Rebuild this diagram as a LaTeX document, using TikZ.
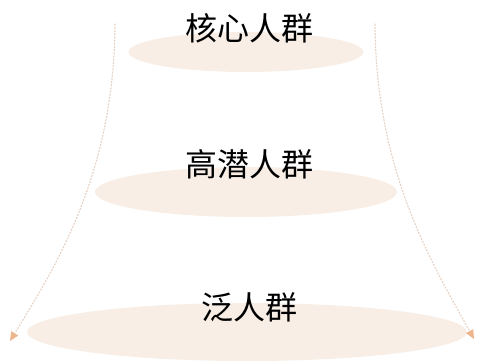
\documentclass[tikz,border=0pt]{standalone}
\usepackage{fontspec}
\newfontfamily\cjk{Noto Sans CJK SC}
\usetikzlibrary{shapes.geometric,arrows.meta}
\definecolor{discfill}{HTML}{F8EEE6}
\definecolor{arrowline}{HTML}{E6D2C4}
\definecolor{arrowtip}{HTML}{EDB58C}
\begin{document}
\begin{tikzpicture}[x=1pt,y=-1pt,
  disc/.style={ellipse,fill=discfill,draw=none,inner sep=0pt},
  label/.style={font=\cjk\fontsize{32}{36}\selectfont,text=black,inner sep=0pt},
  flow/.style={draw=arrowline,line width=1.2pt,dotted,line cap=round,
    -{Triangle[length=9pt,width=8pt,color=arrowtip,fill=arrowtip]}}]
\useasboundingbox (0,0) rectangle (479,362);
\node[disc,minimum width=235pt,minimum height=40pt] (d1) at (246,52) {};
\node[disc,minimum width=302pt,minimum height=50pt] (d2) at (246,192) {};
\node[disc,minimum width=440pt,minimum height=58pt] (d3) at (247,332) {};
\node[label] (t1) at (249,28) {核心人群};
\node[label] (t2) at (249,164) {高潜人群};
\node[label] (t3) at (249,307) {泛人群};
\coordinate (ls) at (115,24);
\coordinate (le) at (10,341);
\coordinate (rs) at (375,24);
\coordinate (re) at (474,339);
\draw[flow] (ls) .. controls (114,170) and (60,260) .. (le);
\draw[flow] (rs) .. controls (376,170) and (430,260) .. (re);
\end{tikzpicture}
\end{document}
